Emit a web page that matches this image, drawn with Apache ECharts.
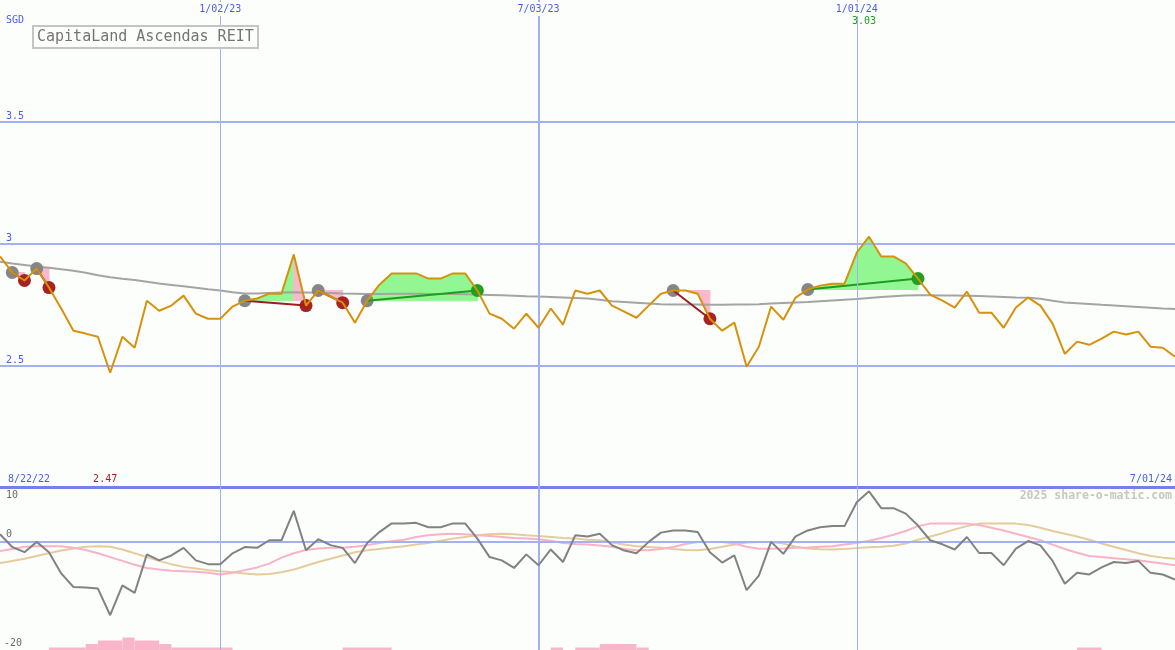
<!DOCTYPE html>
<html><head><meta charset="utf-8">
<script src="https://cdn.jsdelivr.net/npm/echarts@6/dist/echarts.min.js"></script>
<style>html,body{margin:0;padding:0;background:#fcfefc}#c{width:1175px;height:650px}</style>
</head><body><div id="c"></div><script>
// ---------- data ----------
const chartTitle = 'CapitaLand Ascendas REIT';
const currency = 'SGD';
const startLabel = '8/22/22';
const endLabel = '7/01/24';
const watermark = '2025 share-o-matic.com';
const dateTickIdx = [18, 44, 70];
const dateTickLabels = ['1/02/23', '7/03/23', '1/01/24'];
const priceTicks = [2.5, 3, 3.5];
const oscTicks = [10, 0, -20];

// weekly closes, index 0 = first week
const price = [
  2.947,2.881,2.848,2.897,2.819,2.733,2.642,2.630,2.617,2.469,
  2.617,2.572,2.765,2.724,2.745,2.786,2.712,2.691,2.691,2.741,
  2.765,2.774,2.794,2.794,2.955,2.745,2.807,2.782,2.757,2.675,
  2.765,2.831,2.877,2.877,2.877,2.856,2.856,2.877,2.877,2.807,
  2.712,2.691,2.650,2.712,2.654,2.733,2.667,2.807,2.794,2.807,
  2.745,2.720,2.695,2.745,2.794,2.807,2.807,2.794,2.691,2.642,
  2.675,2.494,2.576,2.741,2.687,2.778,2.811,2.827,2.835,2.835,
  2.963,3.028,2.947,2.947,2.918,2.856,2.790,2.765,2.737,2.802,
  2.716,2.716,2.654,2.737,2.778,2.745,2.671,2.547,2.597,2.584,
  2.609,2.638,2.626,2.638,2.576,2.572,2.535
];
const movingAvg = [
  2.925,2.918,2.912,2.906,2.900,2.894,2.888,2.880,2.870,2.861,
  2.855,2.850,2.843,2.836,2.830,2.824,2.818,2.812,2.807,2.800,
  2.795,2.795,2.797,2.799,2.800,2.799,2.798,2.797,2.795,2.794,
  2.793,2.793,2.794,2.794,2.794,2.793,2.793,2.793,2.792,2.791,
  2.789,2.787,2.785,2.783,2.782,2.780,2.778,2.776,2.774,2.769,
  2.763,2.760,2.757,2.754,2.751,2.749,2.749,2.749,2.748,2.748,
  2.749,2.749,2.751,2.754,2.756,2.758,2.760,2.763,2.766,2.769,
  2.772,2.776,2.780,2.783,2.786,2.787,2.787,2.786,2.786,2.785,
  2.784,2.782,2.780,2.778,2.777,2.773,2.765,2.758,2.755,2.752,
  2.748,2.745,2.742,2.739,2.736,2.733,2.731
];
const oscGray = [
  1.3,-1.05,-2.0,-0.1,-2.0,-5.9,-8.4,-8.5,-8.7,-13.6,
  -8.1,-9.5,-2.4,-3.5,-2.6,-1.2,-3.5,-4.2,-4.2,-2.2,
  -1.05,-1.2,0.2,0.2,5.6,-1.65,0.4,-0.7,-1.2,-4.0,
  -0.3,1.7,3.3,3.3,3.4,2.6,2.6,3.3,3.3,0.5,
  -2.9,-3.5,-4.9,-2.4,-4.4,-1.5,-3.8,1.1,0.9,1.4,
  -0.7,-1.7,-2.2,-0.1,1.6,2.0,2.0,1.7,-2.0,-3.9,
  -2.6,-9.0,-6.3,-0.1,-2.3,0.9,2.0,2.6,2.8,2.8,
  7.2,9.2,6.1,6.1,5.1,2.9,0.2,-0.55,-1.5,0.8,
  -2.15,-2.15,-4.4,-1.35,0.05,-0.75,-3.6,-7.8,-5.8,-6.1,
  -4.8,-3.8,-4.0,-3.6,-5.8,-6.1,-7.05
];
const oscPink = [
  -1.8,-1.4,-1.0,-0.9,-0.9,-0.9,-1.2,-1.6,-2.2,-2.9,
  -3.6,-4.3,-4.9,-5.2,-5.4,-5.5,-5.6,-5.8,-6.1,-5.8,
  -5.3,-4.8,-4.1,-3.0,-2.2,-1.6,-1.3,-1.2,-1.2,-1.0,
  -0.7,-0.3,0.0,0.3,0.8,1.1,1.3,1.4,1.3,1.1,
  1.0,0.8,0.6,0.5,0.4,0.1,-0.3,-0.5,-0.6,-0.75,
  -1.0,-1.4,-1.66,-1.66,-1.4,-1.05,-0.5,-0.13,-0.1,-0.13,
  -0.4,-1.0,-1.35,-1.35,-1.3,-1.2,-1.15,-1.0,-0.9,-0.6,
  -0.3,0.1,0.6,1.2,1.9,2.8,3.26,3.3,3.3,3.26,
  3.0,2.5,2.0,1.4,0.8,0.2,-0.6,-1.4,-2.1,-2.7,
  -2.9,-3.1,-3.3,-3.5,-3.8,-4.1,-4.4
];
const oscTan = [
  -4.0,-3.6,-3.2,-2.7,-2.2,-1.7,-1.3,-1.0,-0.9,-1.0,
  -1.5,-2.2,-2.9,-3.6,-4.2,-4.7,-5.0,-5.3,-5.5,-5.7,
  -5.9,-6.1,-6.0,-5.7,-5.2,-4.5,-3.8,-3.2,-2.6,-2.0,
  -1.66,-1.4,-1.15,-0.9,-0.6,-0.3,0.1,0.5,0.8,1.1,
  1.3,1.4,1.3,1.1,1.0,0.8,0.6,0.5,0.3,0.18,
  -0.2,-0.6,-0.9,-1.05,-1.17,-1.4,-1.6,-1.66,-1.4,-1.0,
  -0.6,-0.2,-0.13,-0.13,-0.4,-1.0,-1.3,-1.45,-1.5,-1.4,
  -1.25,-1.1,-1.0,-0.8,-0.4,0.3,0.9,1.5,2.2,2.8,
  3.26,3.3,3.3,3.26,3.0,2.5,1.9,1.4,0.9,0.3,
  -0.4,-1.0,-1.6,-2.2,-2.7,-3.0,-3.2
];
// histogram blocks: [startIdx, endIdx, height]
const histStart = [4, 7, 8, 10, 11, 13, 14, 28, 45, 47, 49, 52, 88];
const histEnd   = [7, 8, 10, 11, 13, 14, 19, 32, 46, 49, 52, 53, 90];
const histValue = [0.46, 1.1, 1.75, 2.3, 1.75, 1.1, 0.46, 0.46, 0.46, 0.46, 1.1, 0.46, 0.46];
// trades: entry week index, exit week index
const tradeEntry = [1, 3, 20, 26, 30, 55, 66];
const tradeExit  = [2, 4, 25, 28, 39, 58, 75];

// ---------- styles ----------
const BG = '#fcfefc';
const FONT = 'DejaVu Sans Mono';
const BLUE_TXT = '#4a5cf0';
const GRID_BLUE = '#a3b0f2';
const N = price.length - 1;

const fillData = [];
tradeEntry.forEach((a, k) => {
  const b = tradeExit[k];
  const e = price[a];
  for (let i = a; i < b; i++) {
    fillData.push([i, i + 1, price[i], price[i + 1], e, price[i + 1] >= e ? 1 : 0]);
  }
});
const tradeData = tradeEntry.map((a, k) => [a, tradeExit[k], price[a], price[tradeExit[k]]]);
const histData = histStart.map((s, k) => [s, histEnd[k], histValue[k]]);
const xy = arr => arr.map((v, i) => [i, v]);

const chart = echarts.init(document.getElementById('c'), null, {renderer: 'canvas'});

const vLines = (thickIdx) => dateTickIdx.map(v => ({
  xAxis: v,
  lineStyle: {color: GRID_BLUE, width: v === thickIdx ? 2 : 1, type: 'solid'}
}));

const option = {
  animation: false,
  backgroundColor: BG,
  grid: [
    {left: 0, right: 0, top: 0, height: 487},
    {left: 0, right: 0, top: 487, height: 163}
  ],
  xAxis: [
    {type: 'value', gridIndex: 0, min: 0, max: N, show: false},
    {type: 'value', gridIndex: 1, min: 0, max: N, show: false}
  ],
  yAxis: [
    {type: 'value', gridIndex: 0, min: 2, max: 4, show: false},
    {type: 'value', gridIndex: 1, min: -20, max: 10, show: false}
  ],
  series: [
    { // grid lines, main panel
      type: 'line', xAxisIndex: 0, yAxisIndex: 0, data: [[0, 1]], z: 1,
      showSymbol: false, lineStyle: {opacity: 0}, silent: true,
      markLine: {
        silent: true, symbol: 'none', label: {show: false}, animation: false,
        data: priceTicks.map(v => ({yAxis: v, lineStyle: {color: GRID_BLUE, width: 2, type: 'solid'}}))
          .concat([{yAxis: 2, lineStyle: {color: '#7282ea', width: 3, type: 'solid'}}])
          .concat(vLines(44))
      }
    },
    { // grid lines, lower panel
      type: 'line', xAxisIndex: 1, yAxisIndex: 1, data: [[0, -100]], z: 1,
      showSymbol: false, lineStyle: {opacity: 0}, silent: true,
      markLine: {
        silent: true, symbol: 'none', label: {show: false}, animation: false,
        data: [{yAxis: 0, lineStyle: {color: GRID_BLUE, width: 2, type: 'solid'}}].concat(vLines(44))
      }
    },
    { // trade shading
      type: 'custom', xAxisIndex: 0, yAxisIndex: 0, z: 2, silent: true,
      data: fillData, encode: {x: [0, 1], y: [2, 3, 4]},
      renderItem: (params, api) => {
        const x0 = api.value(0), x1 = api.value(1), p0 = api.value(2), p1 = api.value(3), e = api.value(4);
        const col = api.value(5) ? '#92f792' : '#f9b9ca';
        return {
          type: 'polygon',
          shape: {points: [api.coord([x0, e]), api.coord([x0, p0]), api.coord([x1, p1]), api.coord([x1, e])]},
          style: {fill: col, stroke: col, lineWidth: 1}
        };
      }
    },
    { // long moving average
      type: 'line', xAxisIndex: 0, yAxisIndex: 0, z: 3, data: xy(movingAvg),
      showSymbol: false, silent: true, lineStyle: {color: '#a4a4a4', width: 2}
    },
    { // trades
      type: 'custom', xAxisIndex: 0, yAxisIndex: 0, z: 4, silent: true,
      data: tradeData, encode: {x: [0, 1], y: [2, 3]},
      renderItem: (params, api) => {
        const a = api.value(0), b = api.value(1), pa = api.value(2), pb = api.value(3);
        const A = api.coord([a, pa]), B = api.coord([b, pb]);
        const gain = pb > pa;
        return {
          type: 'group', children: [
            {type: 'circle', shape: {cx: A[0], cy: A[1], r: 6.5}, style: {fill: '#868686'}},
            {type: 'circle', shape: {cx: B[0], cy: B[1], r: 6.5}, style: {fill: gain ? '#20a020' : '#a82222'}},
            {type: 'line', shape: {x1: A[0], y1: A[1], x2: B[0], y2: B[1]},
             style: {stroke: gain ? '#1f9c1f' : '#9e1c1c', lineWidth: 2}}
          ]
        };
      }
    },
    { // price
      type: 'line', xAxisIndex: 0, yAxisIndex: 0, z: 5, data: xy(price),
      showSymbol: false, silent: true, lineStyle: {color: '#d6920c', width: 2}
    },
    { // histogram blocks
      type: 'custom', xAxisIndex: 1, yAxisIndex: 1, z: 2, silent: true,
      data: histData, encode: {x: [0, 1], y: 2},
      renderItem: (params, api) => {
        const s = api.value(0), e = api.value(1), h = api.value(2);
        const p0 = api.coord([s, -20 + h]), p1 = api.coord([e, -20]);
        return {type: 'rect', shape: {x: p0[0], y: p0[1], width: p1[0] - p0[0], height: p1[1] - p0[1]},
                style: {fill: '#f9b6ca'}};
      }
    },
    {type: 'line', xAxisIndex: 1, yAxisIndex: 1, z: 3, data: xy(oscTan), showSymbol: false, silent: true,
     lineStyle: {color: '#e4cc9c', width: 2}},
    {type: 'line', xAxisIndex: 1, yAxisIndex: 1, z: 4, data: xy(oscPink), showSymbol: false, silent: true,
     lineStyle: {color: '#f9b2c6', width: 2}},
    {type: 'line', xAxisIndex: 1, yAxisIndex: 1, z: 5, data: xy(oscGray), showSymbol: false, silent: true,
     lineStyle: {color: '#828282', width: 2}}
  ]
};
chart.setOption(option);

// ---------- text (positions through the chart's own scales) ----------
const px = (g, pt) => chart.convertToPixel({gridIndex: g}, pt);
const txt = (x, y, text, opts) => Object.assign({
  type: 'text', x: x, y: y, z: 100, silent: true,
  style: Object.assign({text: text, font: '10px "' + FONT + '"', fill: BLUE_TXT,
                        align: 'left', verticalAlign: 'middle'}, opts || {})
});
const g = [];
dateTickIdx.forEach((v, i) => {
  const p = px(0, [v, 3]);
  g.push(txt(p[0], 9, dateTickLabels[i], {align: 'center', backgroundColor: BG, padding: [2, 2, 2, 2]}));
});
g.push(txt(6, 20, currency));
priceTicks.forEach(v => {
  const p = px(0, [0, v]);
  g.push(txt(6, p[1] - 5, String(v)));
});
// title box
g.push({type: 'rect', z: 99, silent: true, shape: {x: 33, y: 26, width: 225, height: 22},
        style: {fill: BG, stroke: '#c4c4c4', lineWidth: 2}});
g.push(txt(37, 37.5, chartTitle, {font: '15px "' + FONT + '"', fill: '#747474'}));
// max / min
let maxI = 0, minI = 0;
price.forEach((v, i) => { if (v > price[maxI]) maxI = i; if (v < price[minI]) minI = i; });
g.push(txt(px(0, [maxI, 3])[0] - 5, 21, price[maxI].toFixed(2), {align: 'center', fill: '#1e9e1e'}));
g.push(txt(8, 479, startLabel));
g.push(txt(px(0, [minI, 3])[0] - 5, 479, price[minI].toFixed(2), {align: 'center', fill: '#a81c1c'}));
g.push(txt(1172, 479, endLabel, {align: 'right'}));
g.push(txt(1172, 496, watermark, {align: 'right', font: 'bold 11.5px "' + FONT + '"', fill: '#c6c6c6'}));
// lower panel ticks
oscTicks.forEach((v, i) => {
  const p = px(1, [0, v]);
  const y = i === 0 ? p[1] + 8 : p[1] - 7;
  g.push(txt(i === 2 ? 4 : 6, y, String(v), {fill: '#6a6a6a'}));
});
chart.setOption({graphic: g});
</script></body></html>
